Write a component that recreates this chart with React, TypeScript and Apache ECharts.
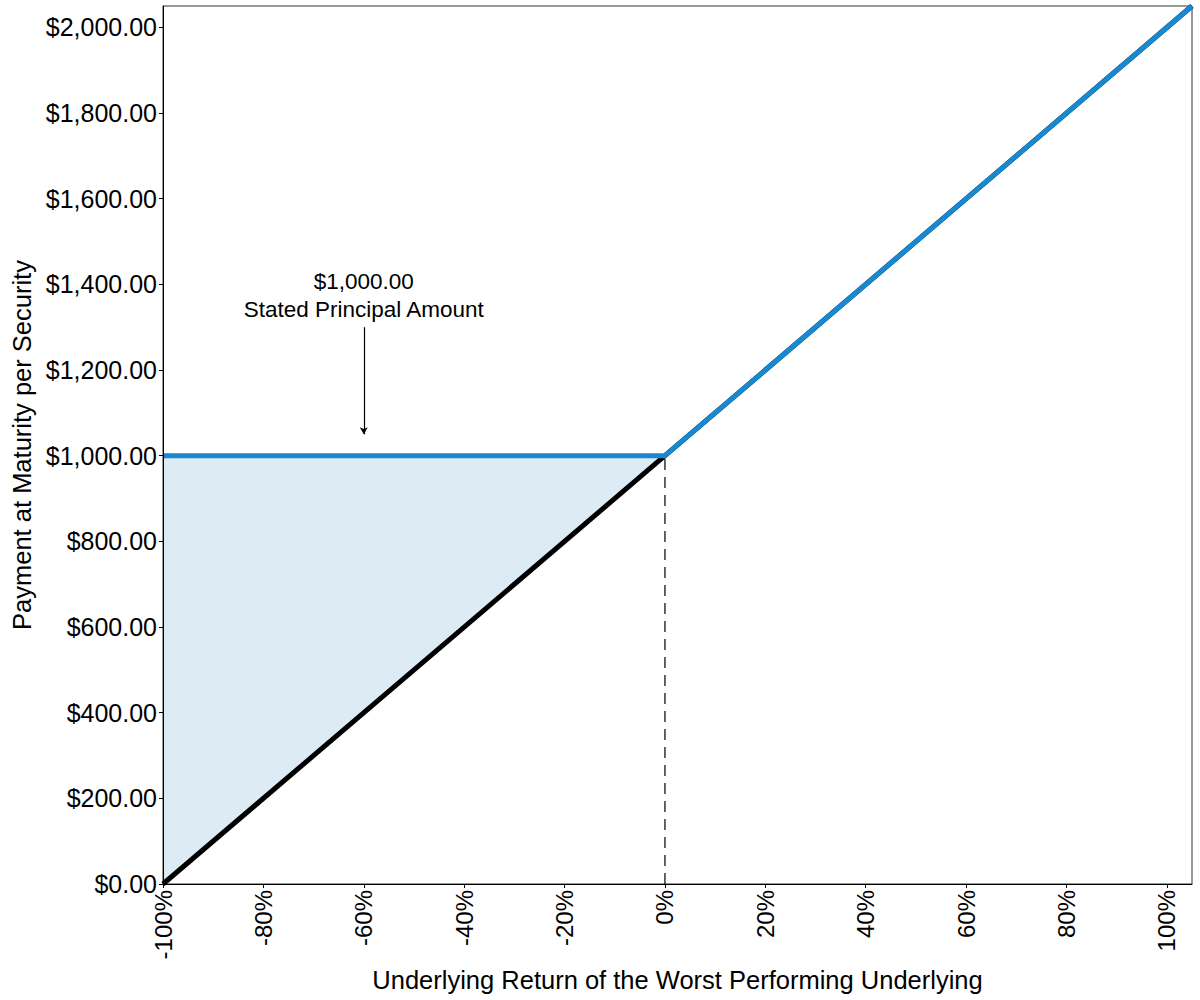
import React, { useEffect, useRef } from "react";
import * as echarts from "echarts";

const returns = [-100, 0, 105];
const payment = [1000, 1000, 2050];
const underlying = [0, 1000, 2050];
const fillReturns = [-100, 0];
const xTicks = [-100, -80, -60, -40, -20, 0, 20, 40, 60, 80, 100];
const yTicks = [0, 200, 400, 600, 800, 1000, 1200, 1400, 1600, 1800, 2000];
const principalReturn = 0;
const principal = 1000;
const annotationX = -60;
const annotationTop = 1300;
const annotationTip = 1050;
const annotationLines = ["$1,000.00", "Stated Principal Amount"];

const FONT = 'Arial, "Liberation Sans", sans-serif';

const fmtMoney = (v: number) =>
  "$" + v.toLocaleString("en-US", { minimumFractionDigits: 2, maximumFractionDigits: 2 });

export default function App() {
  const ref = useRef<HTMLDivElement>(null);
  useEffect(() => {
    if (!ref.current) return;
    const chart = echarts.init(ref.current, null, { renderer: "svg" });
    chart.setOption({
      animation: false,
      backgroundColor: "#fff",
      grid: {
        left: 163,
        right: 8,
        top: 6,
        bottom: 116,
        show: true,
        borderColor: "#333",
        borderWidth: 1,
        containLabel: false,
        outerBoundsMode: "none",
      },
      xAxis: {
        type: "value",
        z: 10,
        min: -100,
        max: 105,
        interval: 20,
        name: "Underlying Return of the Worst Performing Underlying",
        nameLocation: "middle",
        nameGap: 83,
        nameTextStyle: { fontFamily: FONT, fontSize: 25.5, color: "#000" },
        axisLine: { show: true, onZero: false, lineStyle: { color: "#000", width: 1 } },
        axisTick: { show: true, length: 4, lineStyle: { color: "#000" }, customValues: xTicks },
        axisLabel: {
          rotate: 90,
          margin: 6,
          fontFamily: FONT,
          fontSize: 24,
          color: "#000",
          customValues: xTicks,
          formatter: (v: number) => `${v}%`,
        },
        splitLine: { show: false },
      },
      yAxis: {
        type: "value",
        z: 10,
        min: 0,
        max: 2050,
        interval: 200,
        name: "Payment at Maturity per Security",
        nameLocation: "middle",
        nameGap: 122,
        nameTextStyle: { fontFamily: FONT, fontSize: 25.5, color: "#000" },
        axisLine: { show: true, onZero: false, lineStyle: { color: "#000", width: 1 } },
        axisTick: { show: true, length: 4, lineStyle: { color: "#000" }, customValues: yTicks },
        axisLabel: {
          margin: 6,
          fontFamily: FONT,
          fontSize: 25,
          color: "#000",
          customValues: yTicks,
          formatter: (v: number) => fmtMoney(v),
        },
        splitLine: { show: false },
      },
      series: [
        {
          type: "custom",
          data: [[fillReturns[0], underlying[0]]],
          silent: true,
          z: 1,
          renderItem: (_params: any, api: any) => {
            const top = fillReturns.map((x, i) => api.coord([x, payment[i]]));
            const bottom = fillReturns.map((x, i) => api.coord([x, underlying[i]])).reverse();
            return {
              type: "polygon",
              shape: { points: [...top, ...bottom] },
              style: { fill: "#DDEBF5" },
            };
          },
        },
        {
          type: "line",
          data: [
            [principalReturn, 0],
            [principalReturn, principal],
          ],
          symbol: "none",
          lineStyle: { color: "#000", width: 1.2, type: [11, 7] },
          z: 2,
        },
        {
          type: "line",
          data: returns.map((x, i) => [x, underlying[i]]),
          symbol: "none",
          lineStyle: { color: "#000", width: 5 },
          z: 3,
        },
        {
          type: "line",
          data: returns.map((x, i) => [x, payment[i]]),
          symbol: "none",
          lineStyle: { color: "#1888D1", width: 5 },
          z: 4,
          markLine: {
            silent: true,
            symbol: ["none", "arrow"],
            symbolSize: [6, 7],
            label: { show: false },
            lineStyle: { color: "#000", width: 1.2, type: "solid" },
            data: [
              [
                { coord: [annotationX, annotationTop] },
                { coord: [annotationX, annotationTip] },
              ],
            ],
          },
        },
        {
          type: "scatter",
          data: [[annotationX, annotationTop]],
          symbolSize: 0,
          silent: true,
          itemStyle: { opacity: 1, color: "#000" },
          label: {
            show: true,
            position: "top",
            distance: 4,
            formatter: annotationLines.join("\n"),
            fontFamily: FONT,
            fontSize: 22.5,
            lineHeight: 28,
            color: "#000",
            align: "center",
          },
          z: 5,
        },
      ],
    });
    return () => chart.dispose();
  }, []);
  return (
    <div
      ref={ref}
      style={{ position: "absolute", left: 0, top: 0, width: 1200, height: 1000 }}
    />
  );
}
